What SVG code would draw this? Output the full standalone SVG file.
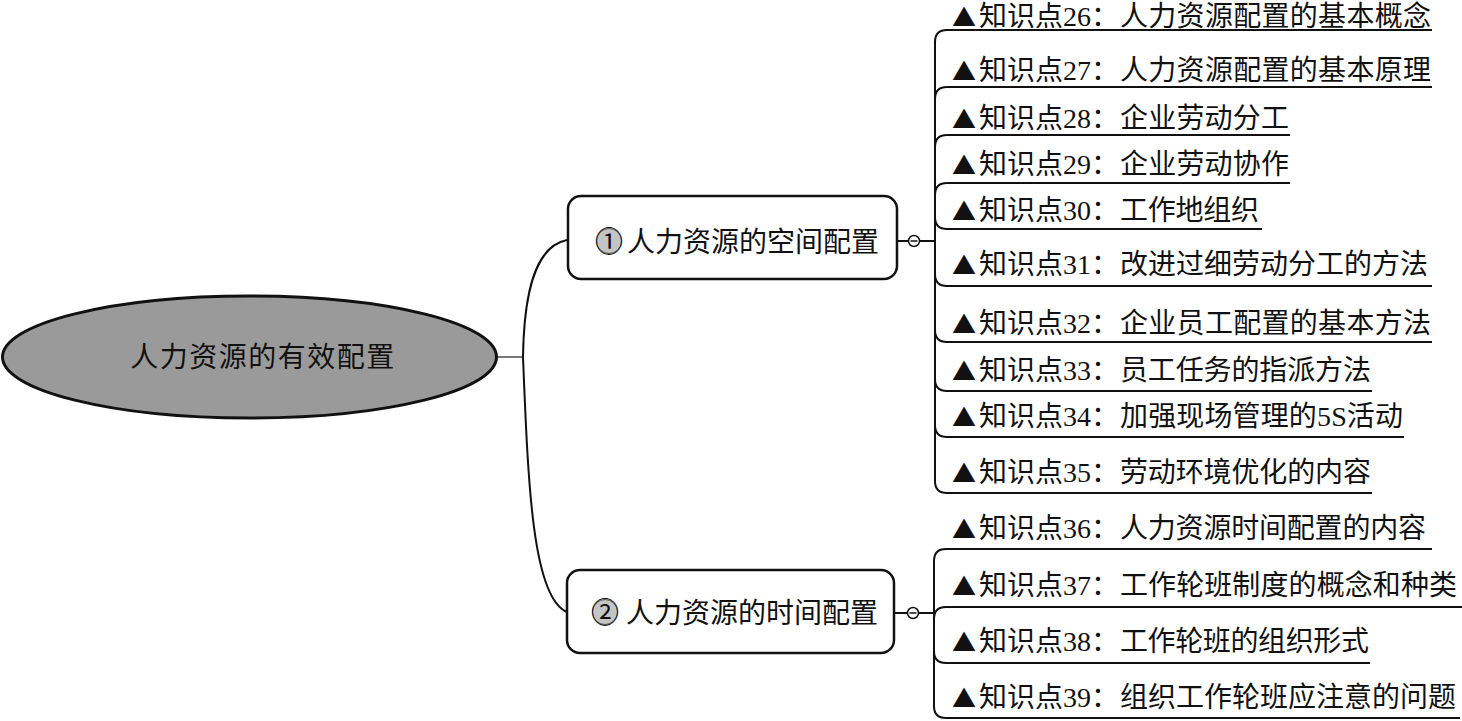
<svg xmlns="http://www.w3.org/2000/svg" width="1462" height="721" viewBox="0 0 1462 721">
<style>
.t{font-family:"Liberation Serif","Noto Sans CJK SC",serif;fill:#111;}
.leaf{font-size:28px;}
.tri{font-family:"Noto Sans CJK SC",sans-serif;font-size:24px;}
.br{font-size:28px;}
.root{font-size:28px;letter-spacing:1.5px;}
.ln{stroke:#111;stroke-width:2;fill:none;}
.ul{stroke:#111;stroke-width:2.2;fill:none;}
.box{fill:#fff;stroke:#111;stroke-width:2.5;}
.tog{fill:#fff;stroke:#111;stroke-width:1.5;}
.num{fill:#c4c4c4;stroke:#555;stroke-width:1;}
</style>
<rect width="1462" height="721" fill="#fff"/>

<g id="connectors">
  <line x1="497" y1="357" x2="523" y2="357" stroke="#777" stroke-width="2"/>
  <path class="ln" d="M523,357 C524,290 536,246 567,240"/>
  <path class="ln" d="M523,357 C528,480 532,598 567,612"/>
  <line class="ln" x1="897" y1="241" x2="935" y2="241"/>
  <line class="ln" x1="894" y1="613" x2="934" y2="613"/>
  <path class="ln" d="M935,241 V42 Q935,30 947,30"/>
  <path class="ln" d="M935,241 V99 Q935,87 947,87"/>
  <path class="ln" d="M935,241 V147 Q935,135 947,135"/>
  <path class="ln" d="M935,241 V195 Q935,183 947,183"/>
  <path class="ln" d="M935,241 V217 Q935,229 947,229"/>
  <path class="ln" d="M935,241 V274 Q935,286 947,286"/>
  <path class="ln" d="M935,241 V330 Q935,342 947,342"/>
  <path class="ln" d="M935,241 V379 Q935,391 947,391"/>
  <path class="ln" d="M935,241 V425 Q935,437 947,437"/>
  <path class="ln" d="M935,241 V481 Q935,493 947,493"/>
  <path class="ln" d="M934,613 V561 Q934,549 946,549"/>
  <path class="ln" d="M934,613 V619 Q934,607 946,607"/>
  <path class="ln" d="M934,613 V651 Q934,663 946,663"/>
  <path class="ln" d="M934,613 V706 Q934,718 946,718"/>
</g>

<g id="root">
  <ellipse cx="249.5" cy="357" rx="247" ry="61" fill="#9a9a9a" stroke="#111" stroke-width="3"/>
  <text class="t root" x="263" y="367" text-anchor="middle">人力资源的有效配置</text>
</g>

<g id="branch1">
  <rect class="box" x="568" y="196" width="329" height="83" rx="13"/>
  <circle class="num" cx="609" cy="241" r="12.5"/>
  <text class="t br" y="252"><tspan x="595">①</tspan><tspan x="627">人力资源的空间配置</tspan></text>
  <circle class="tog" cx="914" cy="241" r="5.5"/>
  <line x1="910.5" y1="241" x2="917.5" y2="241" stroke="#111" stroke-width="1.5"/>
</g>

<g id="branch2">
  <rect class="box" x="567" y="570" width="327" height="83" rx="13"/>
  <circle class="num" cx="605" cy="612" r="12.5"/>
  <text class="t br" y="623"><tspan x="591">②</tspan><tspan x="626">人力资源的时间配置</tspan></text>
  <circle class="tog" cx="913" cy="613" r="5.5"/>
  <line x1="909.5" y1="613" x2="916.5" y2="613" stroke="#111" stroke-width="1.5"/>
</g>

<g id="leaf26"><line class="ul" x1="946" y1="30" x2="1432" y2="30"/><text class="t leaf" y="26"><tspan class="tri" x="952">▲</tspan><tspan x="979">知识点26：</tspan><tspan x="1120" textLength="311" lengthAdjust="spacing">人力资源配置的基本概念</tspan></text></g>
<g id="leaf27"><line class="ul" x1="946" y1="87" x2="1432" y2="87"/><text class="t leaf" y="80"><tspan class="tri" x="952">▲</tspan><tspan x="979">知识点27：</tspan><tspan x="1120" textLength="311" lengthAdjust="spacing">人力资源配置的基本原理</tspan></text></g>
<g id="leaf28"><line class="ul" x1="946" y1="135" x2="1290" y2="135"/><text class="t leaf" y="128"><tspan class="tri" x="952">▲</tspan><tspan x="979">知识点28：</tspan><tspan x="1120" textLength="169" lengthAdjust="spacing">企业劳动分工</tspan></text></g>
<g id="leaf29"><line class="ul" x1="946" y1="183" x2="1290" y2="183"/><text class="t leaf" y="174"><tspan class="tri" x="952">▲</tspan><tspan x="979">知识点29：</tspan><tspan x="1120" textLength="169" lengthAdjust="spacing">企业劳动协作</tspan></text></g>
<g id="leaf30"><line class="ul" x1="946" y1="229" x2="1262" y2="229"/><text class="t leaf" y="220"><tspan class="tri" x="952">▲</tspan><tspan x="979">知识点30：</tspan><tspan x="1120" textLength="139" lengthAdjust="spacing">工作地组织</tspan></text></g>
<g id="leaf31"><line class="ul" x1="946" y1="286" x2="1432" y2="286"/><text class="t leaf" y="274"><tspan class="tri" x="952">▲</tspan><tspan x="979">知识点31：</tspan><tspan x="1120" textLength="308" lengthAdjust="spacing">改进过细劳动分工的方法</tspan></text></g>
<g id="leaf32"><line class="ul" x1="946" y1="342" x2="1432" y2="342"/><text class="t leaf" y="333"><tspan class="tri" x="952">▲</tspan><tspan x="979">知识点32：</tspan><tspan x="1120" textLength="311" lengthAdjust="spacing">企业员工配置的基本方法</tspan></text></g>
<g id="leaf33"><line class="ul" x1="946" y1="391" x2="1372" y2="391"/><text class="t leaf" y="380"><tspan class="tri" x="952">▲</tspan><tspan x="979">知识点33：</tspan><tspan x="1120" textLength="251" lengthAdjust="spacing">员工任务的指派方法</tspan></text></g>
<g id="leaf34"><line class="ul" x1="946" y1="437" x2="1404" y2="437"/><text class="t leaf" y="426"><tspan class="tri" x="952">▲</tspan><tspan x="979">知识点34：</tspan><tspan x="1120" textLength="283" lengthAdjust="spacing">加强现场管理的5S活动</tspan></text></g>
<g id="leaf35"><line class="ul" x1="946" y1="493" x2="1372" y2="493"/><text class="t leaf" y="482"><tspan class="tri" x="952">▲</tspan><tspan x="979">知识点35：</tspan><tspan x="1120" textLength="251" lengthAdjust="spacing">劳动环境优化的内容</tspan></text></g>
<g id="leaf36"><line class="ul" x1="945" y1="549" x2="1432" y2="549"/><text class="t leaf" y="538"><tspan class="tri" x="952">▲</tspan><tspan x="979">知识点36：</tspan><tspan x="1120" textLength="306" lengthAdjust="spacing">人力资源时间配置的内容</tspan></text></g>
<g id="leaf37"><line class="ul" x1="945" y1="607" x2="1462" y2="607"/><text class="t leaf" y="595"><tspan class="tri" x="952">▲</tspan><tspan x="979">知识点37：</tspan><tspan x="1120" textLength="337" lengthAdjust="spacing">工作轮班制度的概念和种类</tspan></text></g>
<g id="leaf38"><line class="ul" x1="945" y1="663" x2="1370" y2="663"/><text class="t leaf" y="651"><tspan class="tri" x="952">▲</tspan><tspan x="979">知识点38：</tspan><tspan x="1120" textLength="249" lengthAdjust="spacing">工作轮班的组织形式</tspan></text></g>
<g id="leaf39"><line class="ul" x1="945" y1="718" x2="1460" y2="718"/><text class="t leaf" y="707"><tspan class="tri" x="952">▲</tspan><tspan x="979">知识点39：</tspan><tspan x="1120" textLength="336" lengthAdjust="spacing">组织工作轮班应注意的问题</tspan></text></g>
</svg>
